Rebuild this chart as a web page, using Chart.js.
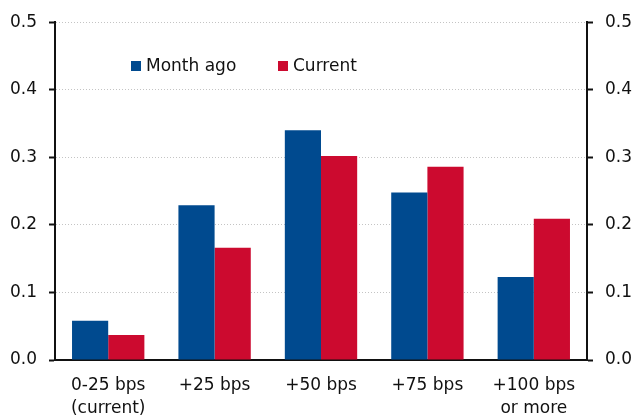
<!DOCTYPE html>
<html>
<head>
<meta charset="utf-8">
<script src="https://cdn.jsdelivr.net/npm/chart.js@4"></script>
<style>
  html, body { margin: 0; padding: 0; background: #fff; }
  #wrap { position: relative; width: 635px; height: 416px; }
</style>
</head>
<body>
<div id="wrap"><canvas id="chart"></canvas></div>
<script>
const categories = [["0-25 bps", "(current)"], "+25 bps", "+50 bps", "+75 bps", ["+100 bps", "or more"]];
const monthAgo = [0.058, 0.229, 0.340, 0.248, 0.123];
const current = [0.037, 0.166, 0.302, 0.286, 0.209];
const yTicks = [0.0, 0.1, 0.2, 0.3, 0.4, 0.5];

const BLUE = "#004a8f";
const RED = "#cc0a2f";
const FONT = "DejaVu Sans";

// legend drawn inside the plot area
const innerLegend = {
  id: "innerLegend",
  afterDraw(chart) {
    const ctx = chart.ctx;
    const xs = [131, 278];
    ctx.save();
    ctx.font = "17px '" + FONT + "'";
    ctx.textBaseline = "middle";
    chart.data.datasets.forEach((ds, i) => {
      ctx.fillStyle = ds.backgroundColor;
      ctx.fillRect(xs[i], 61, 10, 10);
      ctx.fillStyle = "#111";
      ctx.fillText(ds.label, xs[i] + 15, 67);
    });
    ctx.restore();
  },
};

const yAxis = (pos, width, onArea) => ({
  position: pos,
  min: 0,
  max: 0.5,
  afterFit: (s) => { s.width = width; },
  afterBuildTicks: (s) => { s.ticks = yTicks.map((v) => ({ value: v })); },
  ticks: {
    color: "#111",
    padding: 12,
    font: { family: FONT, size: 17 },
    callback: (v) => v.toFixed(1),
  },
  grid: {
    drawOnChartArea: onArea,
    color: "#c4c4c4",
    lineWidth: 1,
    tickColor: "#111",
    tickWidth: 2,
    tickLength: 6,
  },
  border: { color: "#111", width: 2, dash: [1, 2] },
});

new Chart(document.getElementById("chart"), {
  type: "bar",
  data: {
    labels: categories,
    datasets: [
      { label: "Month ago", data: monthAgo, backgroundColor: BLUE, yAxisID: "y" },
      { label: "Current", data: current, backgroundColor: RED, yAxisID: "y" },
    ],
  },
  options: {
    responsive: true,
    maintainAspectRatio: false,
    animation: false,
    datasets: { bar: { categoryPercentage: 0.68, barPercentage: 1 } },
    layout: { padding: { top: 20 } },
    plugins: { legend: { display: false }, tooltip: { enabled: false } },
    scales: {
      x: {
        afterFit: (s) => { s.height = 56; },
        grid: { display: false, drawTicks: false },
        border: { color: "#111", width: 2 },
        ticks: {
          color: "#111",
          padding: 15,
          font: { family: FONT, size: 17, lineHeight: 1.3 },
        },
      },
      y: yAxis("left", 55, true),
      y2: yAxis("right", 48, false),
    },
  },
  plugins: [innerLegend],
});
</script>
</body>
</html>
